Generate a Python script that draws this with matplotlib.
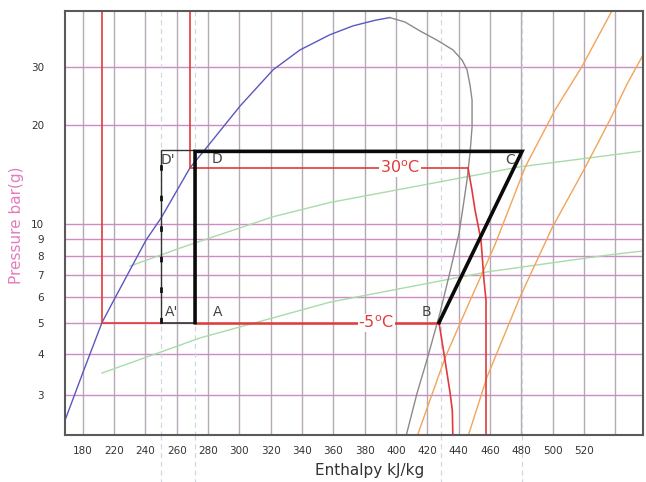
import numpy as np
import matplotlib.pyplot as plt

# ---- data (enthalpy kJ/kg, pressure bar) ----
x_ticks = [200, 220, 240, 260, 280, 300, 320, 340, 360, 380, 400, 420, 440, 460, 480, 500, 520]
x_tick_labels = ["180", "220", "240", "260", "280", "300", "320", "340", "360", "380",
                 "400", "420", "440", "460", "480", "500", "520"]
x_grid = x_ticks + [540]
y_ticks = [3, 4, 5, 6, 7, 8, 9, 10, 20, 30]

liq_h = [188.7, 200.2, 212.3, 220.6, 240.4, 250.0, 268.5, 271.0, 279.3, 300.4, 321.5,
         338.7, 357.8, 372.5, 386.6, 396.0]
liq_p = [2.52, 3.53, 5.0, 5.94, 8.91, 10.4, 14.8, 15.3, 17.1, 22.8, 29.4,
         33.8, 37.6, 40.0, 41.6, 42.4]

vap_h = [396.0, 405.7, 415.3, 426.1, 436.3, 442.1, 445.3, 447.2, 448.5, 448.5, 447.2,
         445.3, 442.7, 440.2, 434.0, 428.0, 419.7, 413.4, 406.3]
vap_p = [42.4, 41.1, 38.6, 36.2, 33.8, 31.5, 29.4, 26.4, 23.8, 19.7, 16.4,
         13.6, 11.2, 9.36, 7.0, 5.34, 3.85, 3.05, 2.25]

grn1_h = [230.2, 262.1, 321.5, 357.8, 479.1, 555.7]
grn1_p = [7.43, 8.43, 10.5, 11.6, 14.9, 16.6]
grn2_h = [212.3, 274.9, 357.8, 458.0, 534.6, 557.6]
grn2_p = [3.51, 4.49, 5.77, 7.13, 8.02, 8.26]

org1_h = [413.4, 431.2, 447.0, 463.0, 482.5, 501.5, 518.5, 538.4]
org1_p = [2.25, 3.90, 5.80, 8.60, 14.9, 22.2, 30.0, 45.0]
org2_h = [445.9, 458.0, 479.1, 499.5, 520.6, 536.5, 547.4, 557.6]
org2_p = [2.25, 3.41, 5.98, 9.70, 14.8, 20.7, 26.6, 32.6]

# refrigeration cycle
p_low, p_high = 5.0, 16.6
h_A, h_B, h_C = 271.7, 427.4, 480.4
h_A2 = 250.0           # A' / D'
p_30 = 14.8            # 30 C condensing line level
h_left_red = 212.3
h_30_red = 268.5
h_30_end = 445.9

red30_h = [445.9, 448.5, 450.4, 454.2, 456.1, 457.4, 457.4]
red30_p = [14.8, 12.6, 11.0, 8.91, 6.74, 5.85, 2.2]
redB_h = [427.4, 431.2, 434.5, 435.9, 436.3]
redB_p = [5.0, 3.85, 3.05, 2.70, 2.2]

fig = plt.figure(figsize=(6.46, 4.82), dpi=100)
ax = fig.add_axes([65/646, 1 - 435/482, 578/646, 424/482])
ax.set_yscale('log')
ax.set_xlim(188.7, 557.6)
ax.set_ylim(2.274, 44.4)

# grid
for g in x_grid:
    ax.axvline(g, color='#b4aab4', lw=1, zorder=1)
for g in y_ticks:
    ax.axhline(g, color='#cc8cc4', lw=1, zorder=1)

# projection lines down to the enthalpy axis
for h in [h_A2, h_A, h_B + 1.3, h_C]:
    ax.plot([h, h], [44.4, 2.274], color='#ccd8e4', lw=0.9, ls=(0, (4, 3)), zorder=1)
    ax.plot([h, h], [2.274, 1.6], color='#ccd8e4', lw=0.9, ls=(0, (4, 3)),
            clip_on=False, zorder=1)

# property curves
ax.plot(liq_h, liq_p, color='#5a58c0', lw=1, zorder=3)
ax.plot(vap_h, vap_p, color='#8a8a8a', lw=1, zorder=3)
ax.plot(grn1_h, grn1_p, color='#a8dca8', lw=1, zorder=2)
ax.plot(grn2_h, grn2_p, color='#a8dca8', lw=1, zorder=2)
ax.plot(org1_h, org1_p, color='#f2a458', lw=1, zorder=2)
ax.plot(org2_h, org2_p, color='#f2a458', lw=1, zorder=2)

# red guide lines
ax.plot([h_left_red, h_left_red, h_A2], [44.4, p_low, p_low], color='#e23a3a', lw=1.2, zorder=4)
ax.plot([h_30_red, h_30_red, h_30_end], [44.4, p_30, p_30], color='#e23a3a', lw=1.2, zorder=4)
ax.plot(red30_h, red30_p, color='#e23a3a', lw=1.2, zorder=4)
ax.plot(redB_h, redB_p, color='#e23a3a', lw=1.2, zorder=4)
ax.plot([h_A, h_B], [p_low, p_low], color='#e23a3a', lw=1.8, zorder=5)

# cycle A'-D' (thin) and A-D-C-B (thick)
ax.plot([h_A2, h_A2, h_A], [p_low, p_high + 0.15, p_high + 0.15], color='#333333', lw=1, zorder=5)
ax.plot([h_A2, h_A], [p_low, p_low], color='#333333', lw=1.2, zorder=5)
ax.plot([h_A2, h_A2], [p_low, p_high], color='#111111', lw=2, ls=(0, (2, 9)), zorder=5)
ax.plot([h_A, h_A, h_C, h_B], [p_low, p_high, p_high, p_low], color='#0a0a0a', lw=2.6,
        solid_joinstyle='miter', zorder=6)

# labels
bb = dict(facecolor='white', edgecolor='none', pad=0.5)
ax.text(402.5, p_30, "30$^\\mathrm{o}$C", color='#e23a3a', fontsize=11.5, ha='center',
        va='center', bbox=bb, zorder=7)
ax.text(387.2, p_low, "-5$^\\mathrm{o}$C", color='#e23a3a', fontsize=11.5, ha='center',
        va='center', bbox=bb, zorder=7)
pt_style = dict(color='#444444', fontsize=10, ha='center', va='center', zorder=7)
ax.text(254.5, 15.6, "D'", **pt_style)
ax.text(285.7, 15.7, "D", **pt_style)
ax.text(257.0, 5.38, "A'", **pt_style)
ax.text(286.4, 5.38, "A", **pt_style)
ax.text(419.7, 5.38, "B", **pt_style)
ax.text(472.7, 15.6, "C", **pt_style)

ax.set_xticks(x_ticks)
ax.set_xticklabels(x_tick_labels)
ax.set_yticks(y_ticks)
ax.set_yticklabels([str(v) for v in y_ticks])
ax.minorticks_off()
ax.tick_params(length=0, labelsize=7.5, labelcolor='#333333', pad=8)
ax.tick_params(axis='y', pad=15)
for s in ax.spines.values():
    s.set_color('#5a5a5a')
    s.set_linewidth(1.5)
    s.set_zorder(8)

fig.text(370/646, 1 - 470/482, "Enthalpy kJ/kg", fontsize=11, color='#333333',
         ha='center', va='center')
fig.text(17/646, 1 - 225/482, "Pressure bar(g)", fontsize=11, color='#e47cbc',
         ha='center', va='center', rotation=90)

fig.savefig("out.png", dpi=100)
